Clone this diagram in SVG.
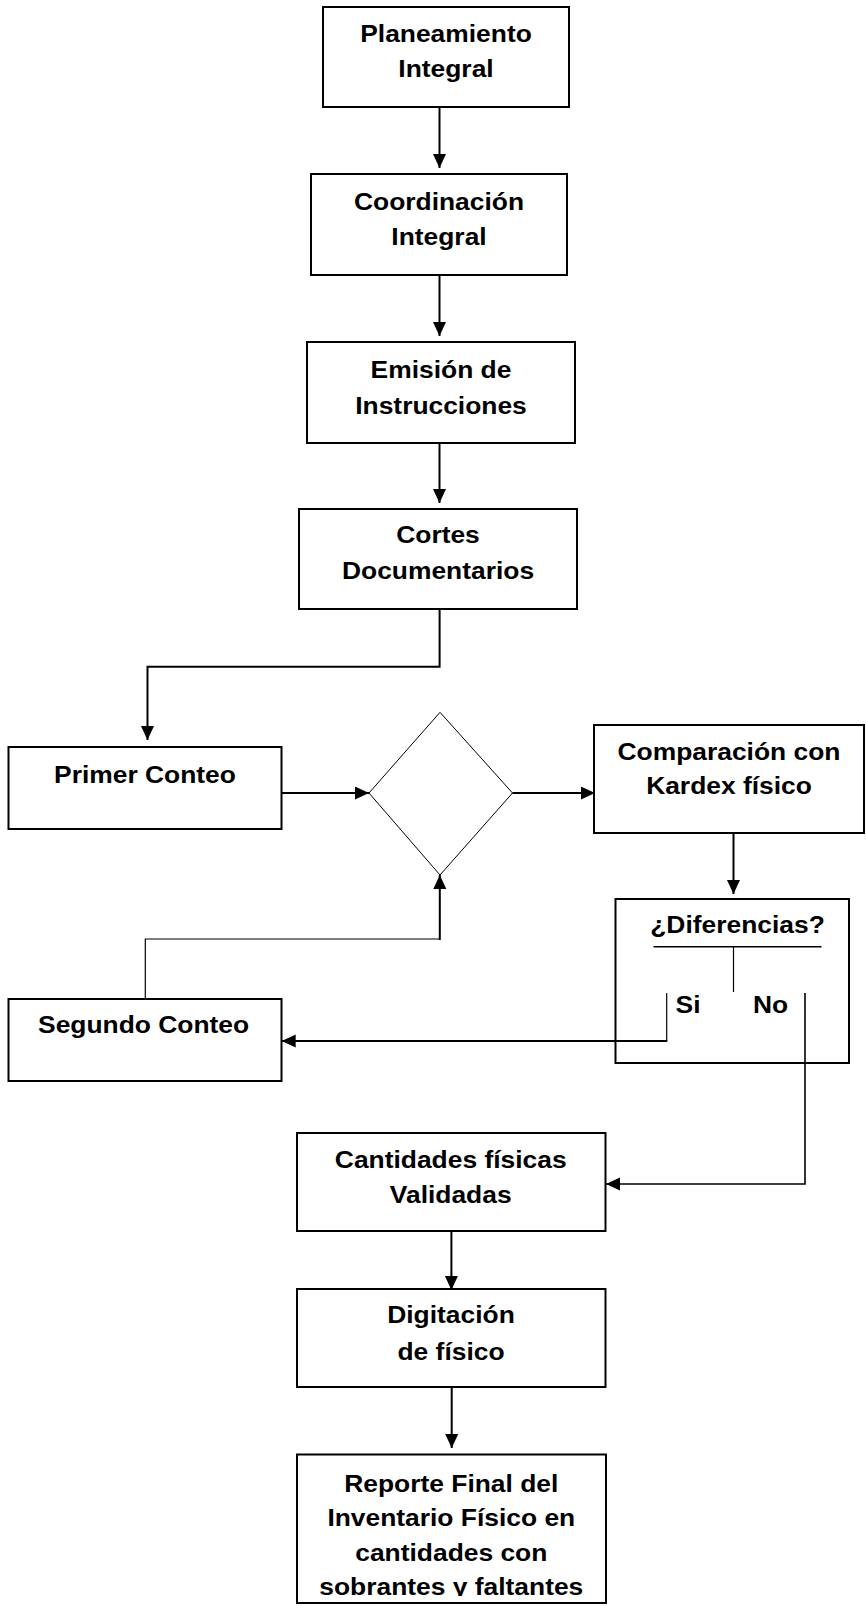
<svg xmlns="http://www.w3.org/2000/svg" width="866" height="1606" viewBox="0 0 866 1606">
<style>
.box{fill:#fff;stroke:#000;stroke-width:2}
.t{font-family:"Liberation Sans",Arial,Helvetica,sans-serif;font-weight:bold;font-size:24px;fill:#000;text-anchor:middle}
.c{fill:none;stroke:#000;stroke-width:2}
.thin{fill:none;stroke:#000;stroke-width:1.2}
</style>
<defs>
<marker id="ah" markerUnits="userSpaceOnUse" markerWidth="15" markerHeight="14" refX="14" refY="6.5" orient="auto">
<path d="M0,0 L14,6.5 L0,13 z" fill="#000"/>
</marker>
<clipPath id="clipR"><rect x="290" y="1450" width="330" height="146"/></clipPath>
</defs>
<rect width="866" height="1606" fill="#fff"/>

<g id="planeamiento">
<rect class="box" x="323" y="7" width="246" height="100"/>
<g transform="translate(446 0) scale(1.1 1)"><text class="t" x="0" y="42">Planeamiento</text><text class="t" x="0" y="77">Integral</text></g>
</g>

<g id="coordinacion">
<rect class="box" x="311" y="174" width="256" height="101"/>
<g transform="translate(439 0) scale(1.1 1)"><text class="t" x="0" y="210">Coordinación</text><text class="t" x="0" y="245">Integral</text></g>
</g>

<g id="emision">
<rect class="box" x="307" y="342" width="268" height="101"/>
<g transform="translate(441 0) scale(1.1 1)"><text class="t" x="0" y="378">Emisión de</text><text class="t" x="0" y="414">Instrucciones</text></g>
</g>

<g id="cortes">
<rect class="box" x="299" y="509" width="278" height="100"/>
<g transform="translate(438 0) scale(1.1 1)"><text class="t" x="0" y="543">Cortes</text><text class="t" x="0" y="579">Documentarios</text></g>
</g>

<g id="primer">
<rect class="box" x="8.5" y="747" width="273" height="82"/>
<g transform="translate(145 0) scale(1.1 1)"><text class="t" x="0" y="783">Primer Conteo</text></g>
</g>

<g id="decision">
<path d="M440,712.3 L512.5,793 L440,875 L369,793 Z" fill="#fff" stroke="#000" stroke-width="1"/>
</g>

<g id="comparacion">
<rect class="box" x="594" y="725" width="270" height="108"/>
<g transform="translate(729 0) scale(1.1 1)"><text class="t" x="0" y="760">Comparación con</text><text class="t" x="0" y="794">Kardex físico</text></g>
</g>

<g id="diferencias">
<rect class="box" x="615.5" y="899" width="233.5" height="164"/>
<g transform="translate(737.5 0) scale(1.1 1)"><text class="t" x="0" y="933">¿Diferencias?</text></g>
<path d="M653.5,946.7 H821.5" stroke="#000" stroke-width="1.5" fill="none"/>
<path d="M733.5,946.7 V992" stroke="#000" stroke-width="1.2" fill="none"/>
<g transform="translate(688 0) scale(1.1 1)"><text class="t" x="0" y="1013">Si</text></g>
<g transform="translate(770.5 0) scale(1.1 1)"><text class="t" x="0" y="1013">No</text></g>
</g>

<g id="segundo">
<rect class="box" x="8.5" y="999" width="273" height="82"/>
<g transform="translate(143.6 0) scale(1.1 1)"><text class="t" x="0" y="1033">Segundo Conteo</text></g>
</g>

<g id="cantidades">
<rect class="box" x="297" y="1133" width="308.5" height="98"/>
<g transform="translate(450.7 0) scale(1.1 1)"><text class="t" x="0" y="1168">Cantidades físicas</text><text class="t" x="0" y="1203">Validadas</text></g>
</g>

<g id="digitacion">
<rect class="box" x="297" y="1289" width="308.5" height="98"/>
<g transform="translate(451 0) scale(1.1 1)"><text class="t" x="0" y="1323">Digitación</text><text class="t" x="0" y="1360">de físico</text></g>
</g>

<g id="reporte">
<rect class="box" x="297" y="1454.5" width="309" height="148.5"/>
<g clip-path="url(#clipR)"><g transform="translate(451.3 0) scale(1.1 1)"><text class="t" x="0" y="1492">Reporte Final del</text><text class="t" x="0" y="1526.5">Inventario Físico en</text><text class="t" x="0" y="1561">cantidades con</text><text class="t" x="0" y="1595.5">sobrantes y faltantes</text></g></g>
</g>

<g id="connectors">
<path class="c" d="M439.5,107 V168" marker-end="url(#ah)"/>
<path class="c" d="M439.5,275 V336" marker-end="url(#ah)"/>
<path class="c" d="M439.5,443 V503" marker-end="url(#ah)"/>
<path class="c" d="M439.6,609 V666.7 H147.5 V740" marker-end="url(#ah)"/>
<path class="c" d="M281.7,793 H369" marker-end="url(#ah)"/>
<path class="c" d="M512.5,793 H595" marker-end="url(#ah)"/>
<path class="c" d="M733.5,833 V894" marker-end="url(#ah)"/>
<path class="thin" d="M666.7,993 V1041"/>
<path class="c" d="M667.3,1041 H281.7" marker-end="url(#ah)"/>
<path class="thin" d="M145.3,998.7 V939 H439.8"/>
<path class="c" d="M439.8,940 V875" marker-end="url(#ah)"/>
<path d="M805,993 V1184 H606" fill="none" stroke="#000" stroke-width="1.6" marker-end="url(#ah)"/>
<path class="c" d="M451.4,1231 V1290" marker-end="url(#ah)"/>
<path class="c" d="M451.7,1387 V1448" marker-end="url(#ah)"/>
</g>
</svg>
